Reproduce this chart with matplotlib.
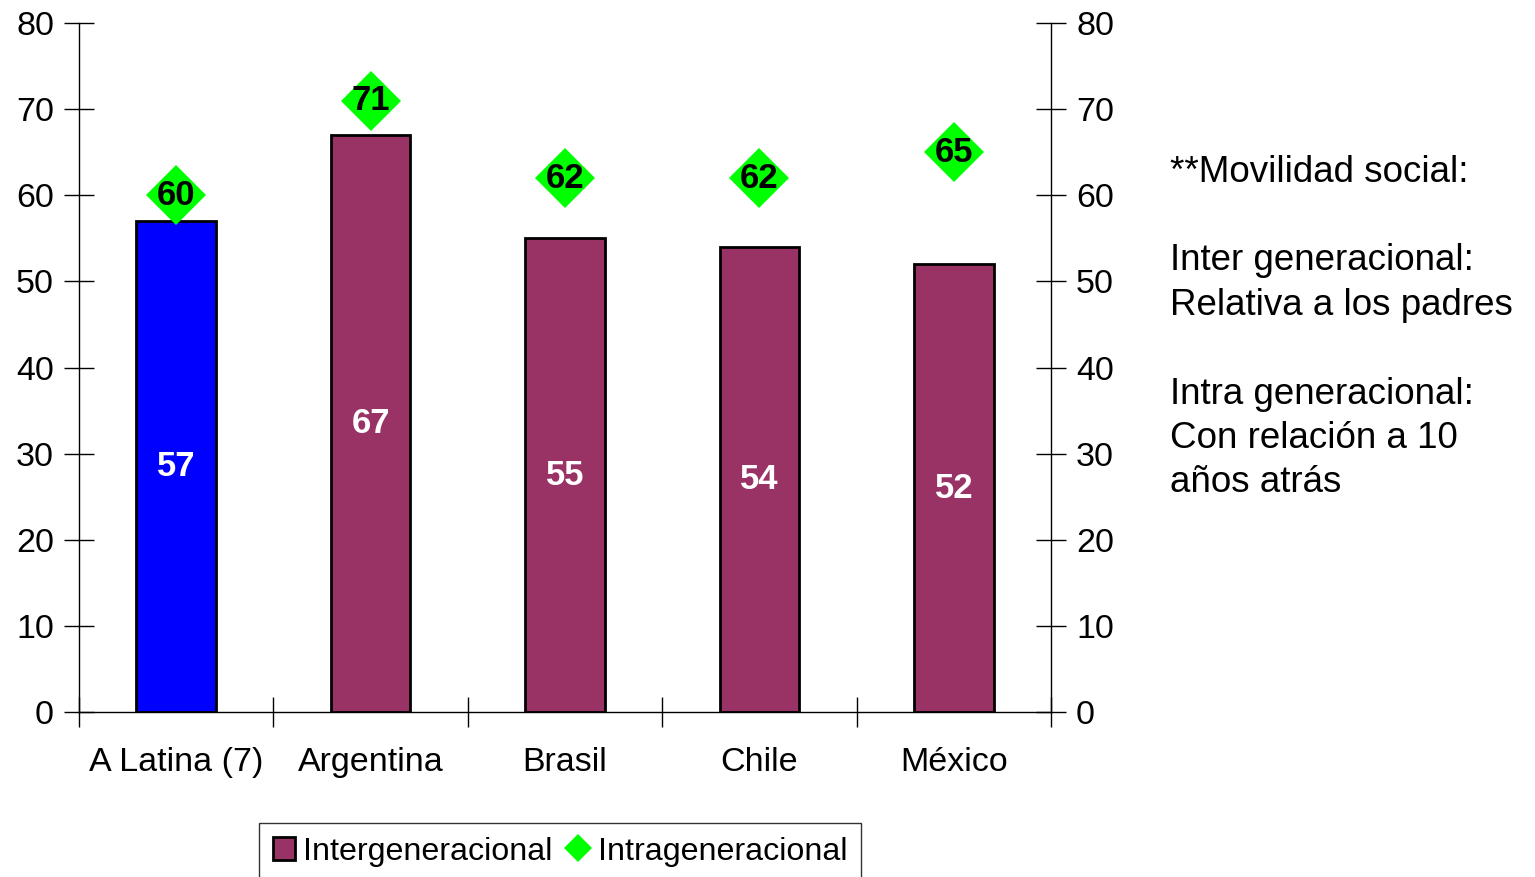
import matplotlib
matplotlib.use("Agg")
import matplotlib.pyplot as plt
from matplotlib.lines import Line2D
from matplotlib.patches import Patch
import numpy as np

categories = ["A Latina (7)", "Argentina", "Brasil", "Chile", "México"]
inter_values = [57, 67, 55, 54, 52]
intra_values = [60, 71, 62, 62, 65]
bar_colors = ["#0000FF", "#993366", "#993366", "#993366", "#993366"]
yticks = [0, 10, 20, 30, 40, 50, 60, 70, 80]
side_lines = ["**Movilidad social:", "", "Inter generacional:", "Relativa a los padres",
              "", "Intra generacional:", "Con relación a 10", "años atrás"]

plt.rcParams['font.family'] = ['Liberation Sans', 'DejaVu Sans']

W, H = 1535, 877
fig = plt.figure(figsize=(W / 100, H / 100), dpi=100)
ax = fig.add_axes([79 / W, (H - 712) / H, (1051 - 79) / W, (712 - 23) / H])

x = np.arange(len(categories))
ax.bar(x, inter_values, width=0.41, color=bar_colors, edgecolor="black", linewidth=2, zorder=2)
for xi, v in zip(x, inter_values):
    ax.text(xi, v / 2, str(v), ha="center", va="center", color="white",
            fontsize=25, fontweight="bold", zorder=4)

ax.plot(x, intra_values, linestyle="none", marker="D", markersize=30.5,
        color="#00FF00", markeredgewidth=0, zorder=3, clip_on=False)
for xi, v in zip(x, intra_values):
    ax.text(xi, v - 0.05, str(v), ha="center", va="center", color="black",
            fontsize=25, fontweight="bold", zorder=5)

ax.set_xlim(-0.5, len(categories) - 0.5)
ax.set_ylim(0, 80)
ax.set_yticks(yticks)
ax.tick_params(axis="y", which="both", direction="inout", length=22, width=1,
               labelsize=24.5, pad=7, left=True, right=True, labelleft=True, labelright=True)
ax.set_xticks(np.arange(len(categories) + 1) - 0.5)
ax.set_xticklabels([])
ax.set_xticks(x, minor=True)
ax.set_xticklabels(categories, minor=True)
ax.tick_params(axis="x", which="major", direction="inout", length=21, width=1)
ax.tick_params(axis="x", which="minor", length=0, labelsize=24.5, pad=25)
ax.spines["top"].set_visible(False)
for s in ["left", "right", "bottom"]:
    ax.spines[s].set_linewidth(1)
    ax.spines[s].set_color("black")

y0 = 172
for i, line in enumerate(side_lines):
    if line:
        fig.text(1170 / W, 1 - (y0 + i * 44.4) / H, line, ha="left", va="center", fontsize=26.5)

handles = [Patch(facecolor="#993366", edgecolor="black", linewidth=2),
           Line2D([], [], linestyle="none", marker="D", color="#00FF00", markersize=14,
                  markeredgewidth=0)]
leg = fig.legend(handles, ["Intergeneracional", "Intrageneracional"], ncol=2,
                 loc="upper left", bbox_to_anchor=(259 / W, 1 - 823 / H),
                 fontsize=23.2, frameon=True, fancybox=False, edgecolor="black",
                 handlelength=0.7, handleheight=0.7, handletextpad=0.25, columnspacing=0.45,
                 borderpad=0.42, borderaxespad=0)
leg.get_frame().set_linewidth(1)

fig.savefig("out.png", dpi=100)
